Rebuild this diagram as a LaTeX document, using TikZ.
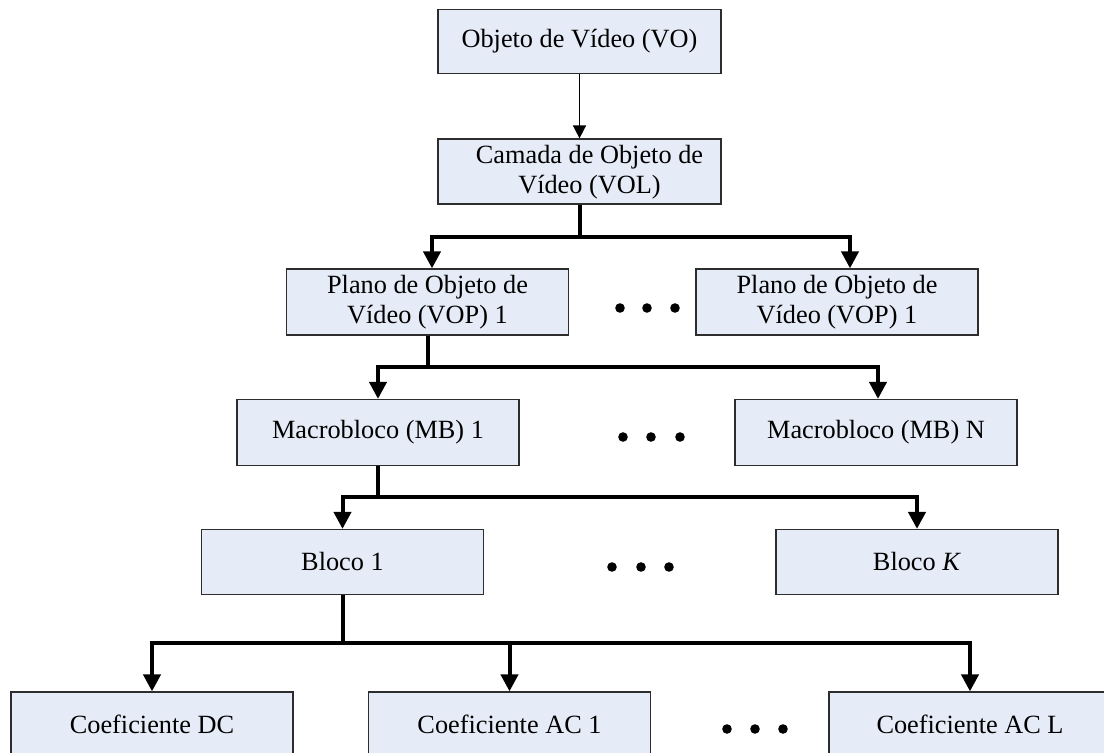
\documentclass[tikz,border=0pt]{standalone}
\usepackage{fontspec}
\setmainfont{Liberation Serif}
\usetikzlibrary{arrows.meta,calc}

\definecolor{boxfill}{RGB}{230,236,247}
\definecolor{boxedge}{RGB}{45,45,45}

\tikzset{
  layer/.style={draw=boxedge, fill=boxfill, line width=0.6pt,
    minimum width=141pt, minimum height=32.5pt, inner sep=0pt,
    align=center, font=\fontsize{13.15pt}{15pt}\selectfont},
  caption/.style={inner sep=0pt, align=center,
    font=\fontsize{13.15pt}{15pt}\selectfont},
  trunk/.style={line width=2pt, line cap=butt},
  branch/.style={line width=2pt, line join=miter,
    -{Triangle[length=8.5pt,width=8.5pt]}},
  thinarrow/.style={line width=0.8pt,
    -{Triangle[length=6.5pt,width=6.5pt]}},
  ellipsisdot/.style={fill=black}
}

\begin{document}
\begin{tikzpicture}[x=0.5pt,y=-0.5pt]
  \useasboundingbox (0,0) rectangle (1104,753);
  \clip (0,0) rectangle (1104,753);

  % hierarchy boxes (positions in pixel units, y growing downwards)
  \node[layer, minimum width=141.5pt, minimum height=32pt] (vo)   at (579.5,41.5) {Objeto de Vídeo (VO)};
  \node[layer, minimum width=141.5pt, minimum height=32.5pt] (vol) at (579.5,171.5) {};
  \node[caption] (voltext) at ($(vol.center)+(10,1)$) {Camada de Objeto de\\Vídeo (VOL)};
  \node[layer, minimum height=33pt] (vop1) at (427.5,302) {Plano de Objeto de\\Vídeo (VOP) 1};
  \node[layer, minimum height=33pt] (vop2) at (837,302)   {Plano de Objeto de\\Vídeo (VOP) 1};
  \node[layer, minimum height=33pt] (mb1)  at (378,432.5) {Macrobloco (MB) 1};
  \node[layer, minimum height=33pt] (mbn)  at (876,432.5) {Macrobloco (MB) N};
  \node[layer] (b1) at (342.5,562) {Bloco 1};
  \node[layer] (bk) at (917,562)   {Bloco \textit{K}};
  \node[layer] (dc)  at (152,724.5)   {Coeficiente DC};
  \node[layer] (ac1) at (509.5,724.5) {Coeficiente AC 1};
  \node[layer] (acl) at (970,724.5)   {Coeficiente AC L};

  % VO -> VOL
  \draw[thinarrow] (vo.south) -- (vol.north);

  % VOL -> VOP
  \coordinate (j1) at (579.5,237);
  \draw[trunk] (vol.south) -- (j1);
  \draw[branch] (j1) -| ($(vop1.north)+(4.5,0)$);
  \draw[branch] (j1) -| ($(vop2.north)+(13,0)$);

  % VOP -> MB
  \coordinate (j2) at (427.5,367);
  \draw[trunk] (vop1.south) -- (j2);
  \draw[branch] (j2) -| (mb1.north);
  \draw[branch] (j2) -| ($(mbn.north)+(2,0)$);

  % MB -> blocks
  \coordinate (j3) at (378,497);
  \draw[trunk] (mb1.south) -- (j3);
  \draw[branch] (j3) -| (b1.north);
  \draw[branch] (j3) -| (bk.north);

  % block -> coefficients
  \coordinate (j4) at (342.5,643);
  \draw[trunk] (b1.south) -- (j4);
  \draw[branch] (j4) -| (dc.north);
  \draw[branch] (j4) -| (ac1.north);
  \draw[branch] (j4) -| (acl.north);

  % ellipses between sibling boxes
  \foreach \y/\xa/\xb/\xc in {308/620/647/675, 437/623/651/680, 567/612/641/669, 729/727/755/783}{
    \fill[ellipsisdot] (\xa,\y) circle[radius=2.4pt];
    \fill[ellipsisdot] (\xb,\y) circle[radius=2.4pt];
    \fill[ellipsisdot] (\xc,\y) circle[radius=2.4pt];
  }
\end{tikzpicture}
\end{document}
